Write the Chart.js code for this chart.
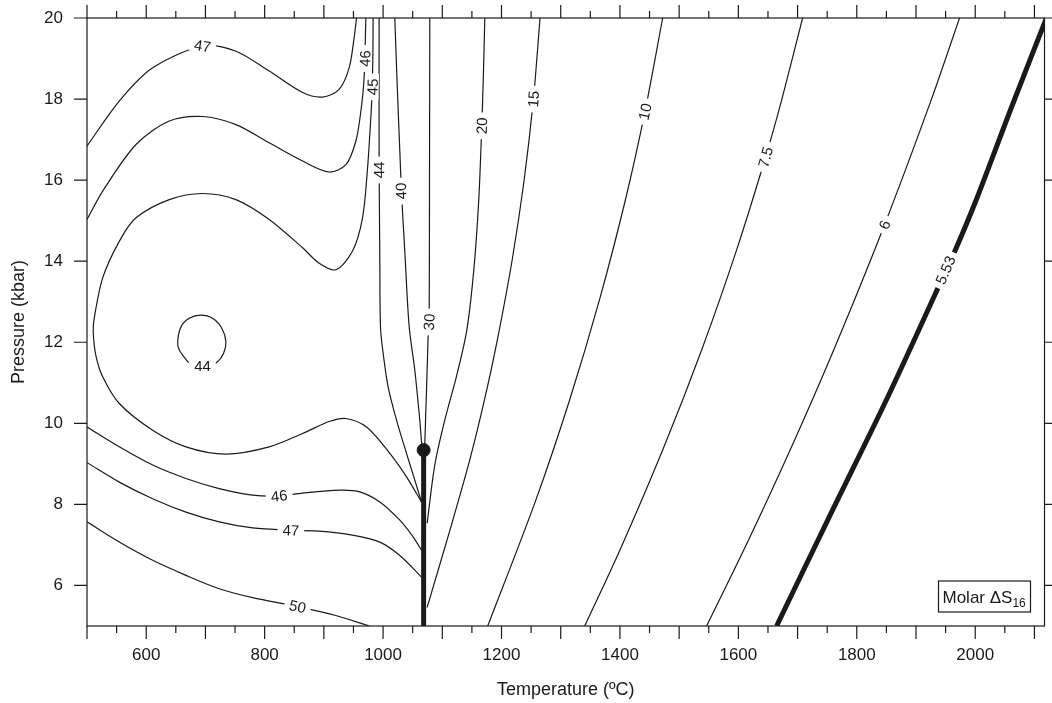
<!DOCTYPE html>
<html>
<head>
<meta charset="utf-8">
<title>Molar ΔS16</title>
<script src="https://cdn.jsdelivr.net/npm/chart.js@4.4.1/dist/chart.umd.min.js"></script>
<style>
  html, body { margin: 0; padding: 0; background: #fff; }
  canvas { display: block; }
</style>
</head>
<body>
<canvas id="chart" width="1052" height="703"></canvas>
<script>
// Isolinhas: [temperatura ºC, pressão kbar]
const iso47a = [[500,16.84],[554.5,17.95],[610.9,18.77],[695.3,19.31],[751.5,19.18],[807.7,18.69],[864.1,18.16],[897.8,18.05],[925.8,18.24],[942.7,18.77],[951.1,19.51],[955.2,20]];
const iso46a = [[500,15.03],[526.5,15.73],[582.7,16.88],[639,17.46],[695.3,17.57],[751.5,17.37],[807.7,16.92],[864.1,16.47],[909,16.2],[937.1,16.38],[954,16.96],[962.5,17.7],[968,18.53],[970.9,20]];
const iso45 = [[983.2,20],[982.7,18.97],[981,18],[979.3,17.54],[973.8,16.3],[965.3,15.07],[948.4,14.25],[920.3,13.79],[892.1,13.95],[864.1,14.33],[807.7,15.03],[751.5,15.52],[695.3,15.67],[639,15.52],[582.7,15.07],[554.5,14.49],[526.5,13.59],[512.3,12.6],[510.6,12.23],[515.2,11.66],[526.5,11.15],[554.5,10.49],[610.9,9.83],[667.1,9.42],[734.6,9.24],[807.7,9.42],[864.1,9.75],[910.1,10.05],[937.1,10.12],[972.1,9.91],[1011.4,9.26],[1039.6,8.68],[1064.9,8.06]];
const iso44 = [[993.3,20],[993.3,16.7],[994.5,14],[995.7,12.35],[1000.1,11.73],[1008.5,10.9],[1022.7,10.08],[1039.6,9.26],[1053.6,8.6],[1064.9,8.06]];
const iso44ring = [[670,11.52],[655.8,11.81],[653.1,12.01],[658.7,12.38],[672.7,12.59],[692.4,12.67],[712.2,12.59],[727.9,12.34],[734.6,12.01],[730.7,11.73],[720.6,11.52],[708,11.44],[682,11.44],[670,11.52]];
const iso46b = [[500,9.91],[554.5,9.42],[610.9,8.97],[667.1,8.64],[723.3,8.39],[779.7,8.23],[824.6,8.21],[864.1,8.28],[927,8.35],[960.8,8.31],[994.5,8.06],[1028.3,7.61],[1050.7,7.2],[1064.9,6.87]];
const iso47b = [[500,9.03],[554.5,8.55],[610.9,8.14],[667.1,7.81],[723.3,7.57],[779.7,7.42],[844.3,7.36],[892.1,7.34],[948.4,7.24],[994.5,7.07],[1028.3,6.74],[1064.9,6.21]];
const iso50 = [[500,7.57],[554.5,7.07],[610.9,6.62],[667.1,6.25],[723.3,5.92],[779.7,5.7],[855.6,5.48],[920.3,5.26],[976.5,5]];
const iso40 = [[1019.8,20],[1023.8,18.36],[1028.3,16.71],[1031,15.73],[1036.7,14.24],[1044,12.4],[1053.6,11.31],[1062,10.08],[1065.9,9.42],[1068.5,9.34]];
const iso30 = [[1078.9,20],[1078.4,16],[1077.8,12.5],[1076.1,12.14],[1070.5,9.51],[1068.5,9.34]];
const iso20 = [[1171.8,20],[1169.2,18.48],[1166.7,17.34],[1161.6,15.51],[1153.2,13.78],[1141.4,12.3],[1124.5,11.19],[1104.2,10.08],[1087.3,8.97],[1074.4,7.53]];
const iso15 = [[1265.1,20],[1253.8,17.98],[1238.3,16.01],[1218,14.03],[1193,12.06],[1171.1,10.57],[1146.3,9.09],[1114.4,7.44],[1074.4,5.46]];
const iso10 = [[1472.2,20],[1442.3,17.69],[1409.2,15.51],[1365.3,13.04],[1314.9,10.57],[1257.8,8.1],[1176.8,5]];
const iso7_5 = [[1708.5,20],[1673.2,17.98],[1646,16.57],[1597.1,14.28],[1538,11.81],[1472.2,9.34],[1399.9,6.87],[1340.5,5]];
const iso6 = [[1973.5,20],[1925.7,17.98],[1846.9,14.9],[1761,11.81],[1687.4,9.34],[1617.2,7.12],[1546.4,5]];
const iso5_53 = [[2120.3,20],[2062.9,17.86],[2001.6,15.51],[1965,14.23],[1949.8,13.78],[1936.8,13.33],[1849.7,10.57],[1757.4,7.81],[1664.6,5]];
const boundary = [[1068.5,9.34],[1068.5,5]];
const endPoint = [[1068.5,9.34]];

const xTickLabels = [600, 800, 1000, 1200, 1400, 1600, 1800, 2000];
const yTickLabels = [6, 8, 10, 12, 14, 16, 18, 20];

// rótulos das isolinhas: texto, linha e posição (T, P)
const contourLabels = [
  { text: '47', line: iso47a, T: 695.3, P: 19.31 },
  { text: '46', line: iso46a, T: 969.8, P: 19.0 },
  { text: '45', line: iso45, T: 982.4, P: 18.3 },
  { text: '44', line: iso44, T: 993.3, P: 16.25 },
  { text: '40', line: iso40, T: 1030.5, P: 15.73 },
  { text: '30', line: iso30, T: 1077.8, P: 12.5 },
  { text: '20', line: iso20, T: 1166.7, P: 17.34 },
  { text: '15', line: iso15, T: 1254, P: 18.0 },
  { text: '10', line: iso10, T: 1442.3, P: 17.69 },
  { text: '7.5', line: iso7_5, T: 1646, P: 16.57 },
  { text: '6', line: iso6, T: 1846.9, P: 14.9 },
  { text: '5.53', line: iso5_53, T: 1949.8, P: 13.78 },
  { text: '44', line: iso44ring, T: 695, P: 11.42 },
  { text: '46', line: iso46b, T: 824.6, P: 8.21 },
  { text: '47', line: iso47b, T: 844.3, P: 7.36 },
  { text: '50', line: iso50, T: 855.6, P: 5.48 }
];

const fontFam = '"Liberation Sans", Arial, Helvetica, sans-serif';
const ink = '#1a1a1a';

function isoLine(pts, width) {
  return {
    data: pts.map(p => ({ x: p[0], y: p[1] })),
    showLine: true,
    borderColor: ink,
    borderWidth: width || 1.2,
    pointRadius: 0,
    tension: 0.3,
    fill: false
  };
}

// moldura com marcas para fora nos quatro lados
const framePlugin = {
  id: 'frame',
  afterDatasetsDraw(chart) {
    const { ctx, chartArea: a, scales: { x, y } } = chart;
    ctx.save();
    ctx.strokeStyle = ink;
    ctx.lineWidth = 1.2;
    ctx.strokeRect(a.left, a.top, a.right - a.left, a.bottom - a.top);
    ctx.beginPath();
    for (let v = x.min; v <= x.max; v += 50) {
      const px = x.getPixelForValue(v);
      const len = v % 100 === 0 ? 13 : 7;
      ctx.moveTo(px, a.bottom); ctx.lineTo(px, a.bottom + len);
      ctx.moveTo(px, a.top); ctx.lineTo(px, a.top - len);
    }
    yTickLabels.forEach(v => {
      const py = y.getPixelForValue(v);
      ctx.moveTo(a.left, py); ctx.lineTo(a.left - 13, py);
      ctx.moveTo(a.right, py); ctx.lineTo(a.right + 13, py);
    });
    ctx.stroke();
    ctx.restore();
  }
};

// rótulos sobre as linhas, girados conforme a direção local
const labelPlugin = {
  id: 'contourLabels',
  afterDatasetsDraw(chart) {
    const { ctx, scales: { x, y } } = chart;
    ctx.save();
    ctx.font = '15px ' + fontFam;
    ctx.textAlign = 'center';
    ctx.textBaseline = 'middle';
    contourLabels.forEach(l => {
      const cx = x.getPixelForValue(l.T), cy = y.getPixelForValue(l.P);
      const pts = l.line.map(p => [x.getPixelForValue(p[0]), y.getPixelForValue(p[1])]);
      let best = Infinity, ang = 0;
      for (let i = 0; i < pts.length - 1; i++) {
        const mx = (pts[i][0] + pts[i + 1][0]) / 2, my = (pts[i][1] + pts[i + 1][1]) / 2;
        const d = Math.hypot(mx - cx, my - cy);
        if (d < best) {
          best = d;
          ang = Math.atan2(pts[i + 1][1] - pts[i][1], pts[i + 1][0] - pts[i][0]);
        }
      }
      if (ang > Math.PI / 2) ang -= Math.PI;
      if (ang <= -Math.PI / 2) ang += Math.PI;
      if (ang > 80 * Math.PI / 180) ang -= Math.PI;
      const w = ctx.measureText(l.text).width;
      ctx.save();
      ctx.translate(cx, cy);
      ctx.rotate(ang);
      ctx.fillStyle = '#fff';
      ctx.fillRect(-w / 2 - 5, -6, w + 10, 12);
      ctx.fillStyle = ink;
      ctx.fillText(l.text, 0, 1);
      ctx.restore();
    });
    ctx.restore();
  }
};

// caixa "Molar ΔS16" no canto inferior direito
const boxPlugin = {
  id: 'molarBox',
  afterDraw(chart) {
    const { ctx, chartArea: a } = chart;
    const x0 = a.right - 106, y0 = a.bottom - 45;
    ctx.save();
    ctx.fillStyle = '#fff';
    ctx.fillRect(x0, y0, 92, 31);
    ctx.strokeStyle = ink;
    ctx.lineWidth = 1.2;
    ctx.strokeRect(x0, y0, 92, 31);
    ctx.fillStyle = ink;
    ctx.textBaseline = 'alphabetic';
    ctx.font = '17px ' + fontFam;
    ctx.fillText('Molar ΔS', x0 + 4, y0 + 22);
    const w = ctx.measureText('Molar ΔS').width;
    ctx.font = '12px ' + fontFam;
    ctx.fillText('16', x0 + 4 + w, y0 + 26);
    ctx.restore();
  }
};

const datasets = [
  isoLine(iso47a), isoLine(iso46a), isoLine(iso45), isoLine(iso44), isoLine(iso44ring),
  isoLine(iso46b), isoLine(iso47b), isoLine(iso50), isoLine(iso40), isoLine(iso30),
  isoLine(iso20), isoLine(iso15), isoLine(iso10), isoLine(iso7_5), isoLine(iso6),
  isoLine(iso5_53, 5), isoLine(boundary, 5),
  {
    data: endPoint.map(p => ({ x: p[0], y: p[1] })),
    pointRadius: 6.5,
    backgroundColor: ink,
    borderColor: ink,
    showLine: false
  }
];

new Chart(document.getElementById('chart').getContext('2d'), {
  type: 'scatter',
  data: { datasets },
  options: {
    responsive: false,
    animation: false,
    layout: { padding: { top: 18, right: 7, left: 0, bottom: 0 } },
    plugins: { legend: { display: false }, tooltip: { enabled: false } },
    scales: {
      x: {
        type: 'linear', min: 500, max: 2117,
        afterBuildTicks: s => { s.ticks = xTickLabels.map(v => ({ value: v })); },
        afterFit: s => { s.height = 77; s.paddingLeft = 0; s.paddingRight = 0; },
        grid: { display: false, drawTicks: false },
        border: { display: false },
        ticks: { padding: 19, color: ink, font: { size: 17, family: fontFam }, maxRotation: 0, autoSkip: false, callback: v => String(v) },
        title: { display: true, text: 'Temperature (ºC)', color: ink, font: { size: 18, family: fontFam }, padding: { bottom: 2 } }
      },
      y: {
        type: 'linear', min: 5, max: 20,
        afterBuildTicks: s => { s.ticks = yTickLabels.map(v => ({ value: v })); },
        afterFit: s => { s.width = 87; s.paddingTop = 0; s.paddingBottom = 0; },
        grid: { display: false, drawTicks: false },
        border: { display: false },
        ticks: { padding: 24, color: ink, font: { size: 17, family: fontFam }, autoSkip: false, callback: v => String(v) },
        title: { display: true, text: 'Pressure (kbar)', color: ink, font: { size: 18, family: fontFam }, padding: { top: 8 } }
      }
    }
  },
  plugins: [framePlugin, labelPlugin, boxPlugin]
});
</script>
</body>
</html>
